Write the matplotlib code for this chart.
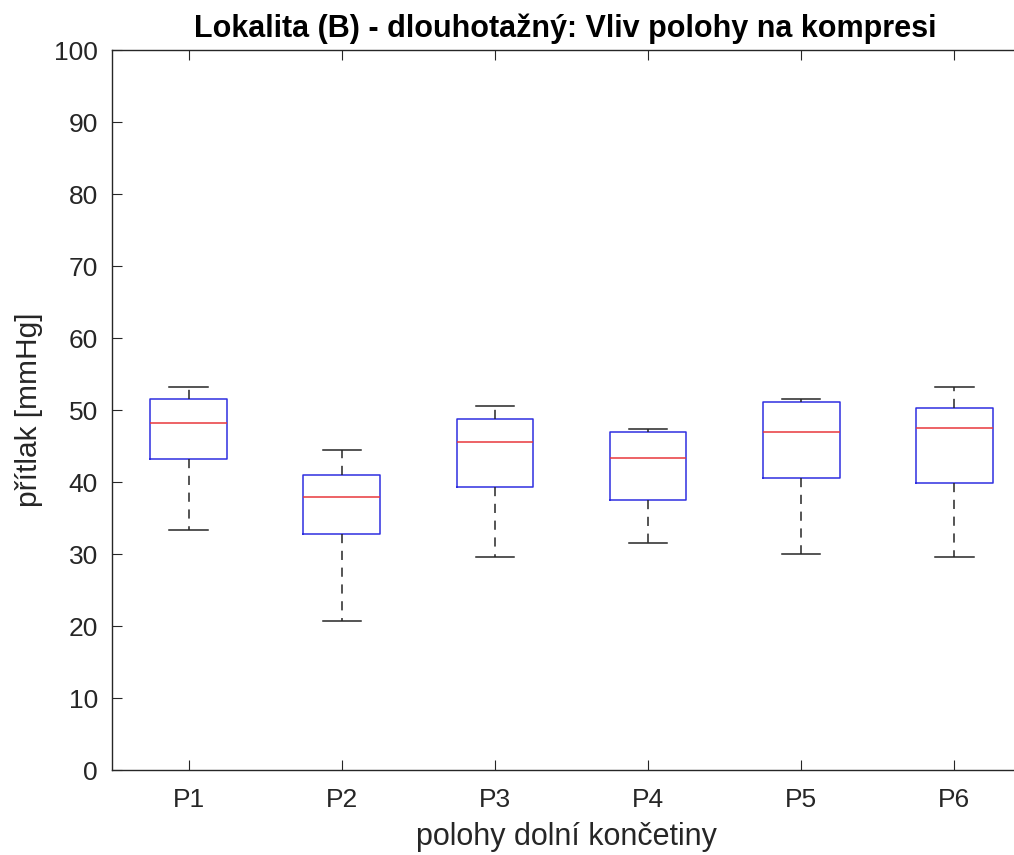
import matplotlib
matplotlib.use("Agg")
import matplotlib.pyplot as plt

plt.rcParams['font.family'] = ['Liberation Sans', 'DejaVu Sans']

labels = ["P1", "P2", "P3", "P4", "P5", "P6"]
whislo = [33.3, 20.7, 29.6, 31.5, 30.0, 29.6]
q1 = [43.2, 32.8, 39.3, 37.5, 40.6, 39.9]
med = [48.2, 37.9, 45.6, 43.3, 47.0, 47.5]
q3 = [51.5, 41.0, 48.7, 46.9, 51.1, 50.3]
whishi = [53.15, 44.5, 50.6, 47.4, 51.5, 53.15]

stats = []
for i in range(len(labels)):
    stats.append(dict(label=labels[i], whislo=whislo[i], q1=q1[i], med=med[i],
                      q3=q3[i], whishi=whishi[i], fliers=[]))

fig = plt.figure(figsize=(10.14, 8.55), dpi=100)
# right edge of the axes falls just outside the picture, like the reference
ax = fig.add_axes([112/1014, 85/855, (1031-112)/1014, (770-50)/855])

ax.bxp(stats, positions=range(1, 7), widths=0.5, showfliers=False,
       boxprops=dict(color="#2f2fe0", linewidth=1.1),
       medianprops=dict(color="#e8383c", linewidth=1.1),
       whiskerprops=dict(color="#262626", linewidth=1.1, linestyle=(0, (6, 5))),
       capprops=dict(color="#262626", linewidth=1.1),
       capwidths=0.25)

ax.set_xlim(0.5, 6.5)
ax.set_ylim(0, 100)
ax.set_yticks(range(0, 101, 10))
ax.set_xticks(range(1, 7))
ax.set_xticklabels(labels)
ax.tick_params(direction="in", top=True, right=True, labelsize=19, length=7,
               width=0.8, colors="#262626", labelcolor="#262626")
ax.tick_params(axis="x", pad=13)
ax.tick_params(axis="y", pad=10)
for s in ax.spines.values():
    s.set_linewidth(1.0)
    s.set_color("#262626")

fig.text(565/1014, 1 - 37/855, "Lokalita (B) - dlouhotažný: Vliv polohy na kompresi",
         fontsize=22, fontweight="bold", ha="center", va="baseline")
ax.set_xlabel("polohy dolní končetiny", fontsize=22, color="#262626")
ax.xaxis.set_label_coords((566-112)/(1031-112), -0.072)
ax.set_ylabel("přítlak [mmHg]", fontsize=21.5, color="#262626")
ax.yaxis.set_label_coords((43-112)/(1031-112), 0.5)

fig.savefig("out.png", dpi=100)
